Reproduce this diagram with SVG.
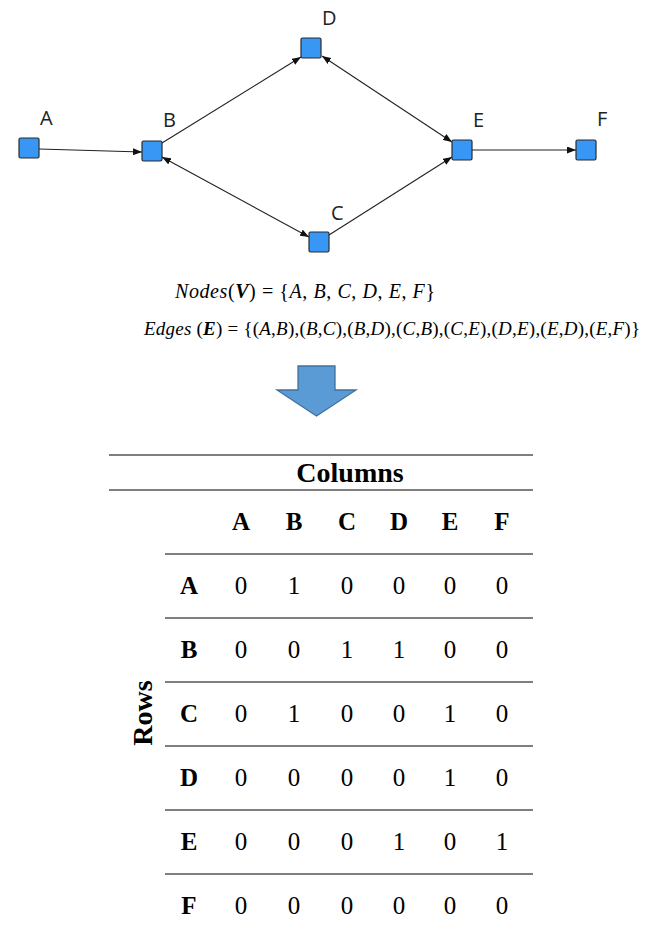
<svg xmlns="http://www.w3.org/2000/svg" width="650" height="935" viewBox="0 0 650 935">
<style>
.node{fill:#3897f4;stroke:#2b2b2b;stroke-width:1.2}
.lbl{font-family:"Open Sans","DejaVu Sans",sans-serif;font-size:20px;fill:#222}
.edge{stroke:#222;stroke-width:1.1;fill:none}
.math{font-family:"Liberation Serif","DejaVu Serif",serif;font-size:19px;fill:#000}
.m1{font-size:20px}
.it{font-style:italic}
.bi{font-style:italic;font-weight:bold}
.rule{stroke:#7f7f7f;stroke-width:2}
.th{font-family:"Liberation Serif","Times New Roman",serif;font-size:25px;font-weight:bold;text-anchor:middle;fill:#000}
.td{font-family:"Liberation Serif","Times New Roman",serif;font-size:25px;text-anchor:middle;fill:#000}
.big{font-family:"Liberation Serif","Times New Roman",serif;font-size:28px;font-weight:bold;text-anchor:middle;fill:#000}
</style>
<defs>
<marker id="ah" markerUnits="userSpaceOnUse" markerWidth="9" markerHeight="7" refX="9" refY="3.5" orient="auto-start-reverse">
<path d="M0,0 L9,3.5 L0,7 z" fill="#111"/>
</marker>
</defs>
<g id="connectors">
<line class="edge" x1="39" y1="149" x2="142" y2="152" marker-end="url(#ah)"/>
<line class="edge" x1="162" y1="143" x2="301" y2="57" marker-end="url(#ah)"/>
<line class="edge" x1="162" y1="157" x2="309" y2="237" marker-start="url(#ah)" marker-end="url(#ah)"/>
<line class="edge" x1="322" y1="56" x2="452" y2="142" marker-start="url(#ah)" marker-end="url(#ah)"/>
<line class="edge" x1="329" y1="235" x2="452" y2="157" marker-end="url(#ah)"/>
<line class="edge" x1="472" y1="150" x2="576" y2="150" marker-end="url(#ah)"/>
</g>
<g id="node-A"><rect class="node" x="19" y="138" width="20" height="20" rx="1.5"/><text class="lbl" x="40" y="125">A</text></g>
<g id="node-B"><rect class="node" x="142" y="141" width="20" height="20" rx="1.5"/><text class="lbl" x="163" y="127">B</text></g>
<g id="node-D"><rect class="node" x="301" y="38" width="20" height="20" rx="1.5"/><text class="lbl" x="322" y="25">D</text></g>
<g id="node-C"><rect class="node" x="309" y="232" width="20" height="20" rx="1.5"/><text class="lbl" x="331" y="220">C</text></g>
<g id="node-E"><rect class="node" x="452" y="140" width="20" height="20" rx="1.5"/><text class="lbl" x="473" y="127">E</text></g>
<g id="node-F"><rect class="node" x="576" y="140" width="20" height="20" rx="1.5"/><text class="lbl" x="597" y="126">F</text></g>
<g id="formulas">
<text class="math m1" x="175" y="298" textLength="260" lengthAdjust="spacing"><tspan class="it">Nodes</tspan>(<tspan class="bi">V</tspan>) = {<tspan class="it">A</tspan>, <tspan class="it">B</tspan>, <tspan class="it">C</tspan>, <tspan class="it">D</tspan>, <tspan class="it">E</tspan>, <tspan class="it">F</tspan>}</text>
<text class="math" x="144" y="335" textLength="496" lengthAdjust="spacing"><tspan class="it">Edges</tspan> (<tspan class="bi">E</tspan>) = {(<tspan class="it">A</tspan>,<tspan class="it">B</tspan>),(<tspan class="it">B</tspan>,<tspan class="it">C</tspan>),(<tspan class="it">B</tspan>,<tspan class="it">D</tspan>),(<tspan class="it">C</tspan>,<tspan class="it">B</tspan>),(<tspan class="it">C</tspan>,<tspan class="it">E</tspan>),(<tspan class="it">D</tspan>,<tspan class="it">E</tspan>),(<tspan class="it">E</tspan>,<tspan class="it">D</tspan>),(<tspan class="it">E</tspan>,<tspan class="it">F</tspan>)}</text>
</g>
<g id="down-arrow">
<path d="M298,366 L335,366 L335,390 L356,390 L316.5,416 L277,390 L298,390 Z" fill="#5b9bd5" stroke="#41719c" stroke-width="1.3"/>
</g>
<g id="matrix">
<line class="rule" x1="109" y1="455" x2="533" y2="455"/>
<line class="rule" x1="109" y1="490" x2="533" y2="490"/>
<text class="big" x="350" y="482">Columns</text>
<text class="big" transform="translate(152,713) rotate(-90)" x="0" y="0">Rows</text>
<g class="th"><text x="241" y="530">A</text><text x="294" y="530">B</text><text x="347" y="530">C</text><text x="399" y="530">D</text><text x="450" y="530">E</text><text x="502" y="530">F</text></g>
<line class="rule" x1="165" y1="554" x2="533" y2="554"/>
<line class="rule" x1="165" y1="618" x2="533" y2="618"/>
<line class="rule" x1="165" y1="682" x2="533" y2="682"/>
<line class="rule" x1="165" y1="746" x2="533" y2="746"/>
<line class="rule" x1="165" y1="810" x2="533" y2="810"/>
<line class="rule" x1="165" y1="874" x2="533" y2="874"/>
<g class="th"><text x="189" y="594">A</text><text x="189" y="658">B</text><text x="189" y="722">C</text><text x="189" y="786">D</text><text x="189" y="850">E</text><text x="189" y="914">F</text></g>
<g class="td">
<text x="241" y="594">0</text><text x="294" y="594">1</text><text x="347" y="594">0</text><text x="399" y="594">0</text><text x="450" y="594">0</text><text x="502" y="594">0</text>
<text x="241" y="658">0</text><text x="294" y="658">0</text><text x="347" y="658">1</text><text x="399" y="658">1</text><text x="450" y="658">0</text><text x="502" y="658">0</text>
<text x="241" y="722">0</text><text x="294" y="722">1</text><text x="347" y="722">0</text><text x="399" y="722">0</text><text x="450" y="722">1</text><text x="502" y="722">0</text>
<text x="241" y="786">0</text><text x="294" y="786">0</text><text x="347" y="786">0</text><text x="399" y="786">0</text><text x="450" y="786">1</text><text x="502" y="786">0</text>
<text x="241" y="850">0</text><text x="294" y="850">0</text><text x="347" y="850">0</text><text x="399" y="850">1</text><text x="450" y="850">0</text><text x="502" y="850">1</text>
<text x="241" y="914">0</text><text x="294" y="914">0</text><text x="347" y="914">0</text><text x="399" y="914">0</text><text x="450" y="914">0</text><text x="502" y="914">0</text>
</g>
</g>
</svg>
